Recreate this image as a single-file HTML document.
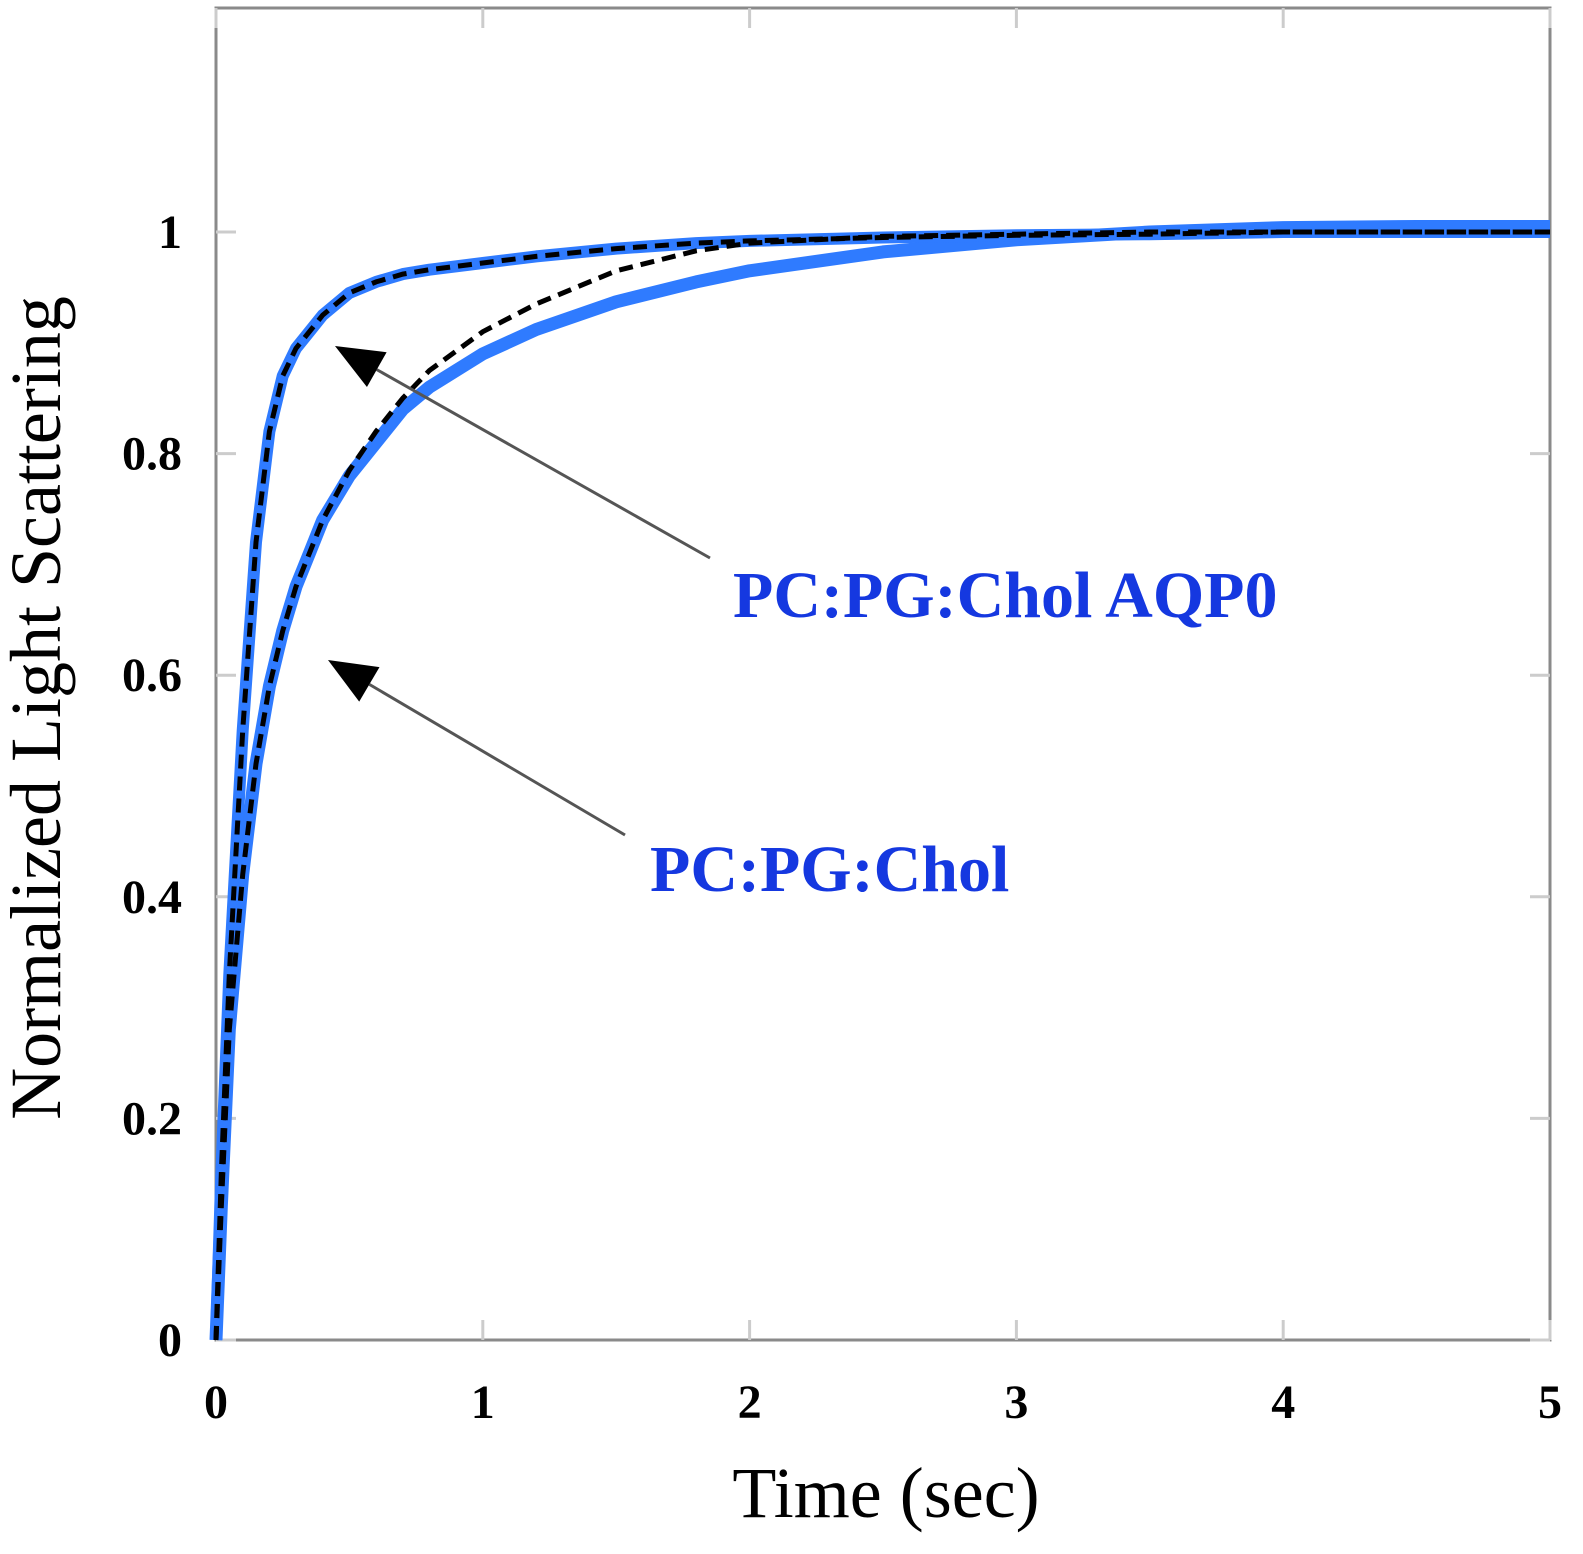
<!DOCTYPE html>
<html><head><meta charset="utf-8"><style>
body{margin:0;background:#fff}
svg{display:block}
text{font-family:"Liberation Serif",serif}
</style></head><body>
<svg id="chart" width="1583" height="1554" viewBox="0 0 1583 1554" xmlns="http://www.w3.org/2000/svg"></svg>
<script>
const times=[0,0.02,0.05,0.1,0.15,0.2,0.25,0.3,0.35,0.4,0.5,0.6,0.7,0.8,1.0,1.2,1.5,1.8,2.0,2.5,3,3.5,4,4.5,5];
const fastData=[0,0.15,0.33,0.55,0.72,0.82,0.87,0.895,0.91,0.925,0.945,0.955,0.962,0.966,0.972,0.978,0.985,0.99,0.992,0.995,0.997,0.998,1.0,1.0,1.0];
const fastFit=[0,0.15,0.33,0.55,0.72,0.82,0.87,0.895,0.91,0.925,0.945,0.955,0.962,0.966,0.972,0.978,0.985,0.99,0.992,0.995,0.997,0.998,1.0,1.0,1.0];
const slowData=[0,0.12,0.28,0.42,0.52,0.59,0.64,0.68,0.71,0.74,0.78,0.81,0.84,0.86,0.89,0.912,0.937,0.955,0.965,0.982,0.993,1.0,1.004,1.005,1.005];
const slowFit=[0,0.12,0.28,0.42,0.52,0.59,0.64,0.68,0.71,0.74,0.785,0.82,0.85,0.875,0.91,0.935,0.965,0.983,0.99,0.996,0.998,1.0,1.0,1.0,1.0];
const xTicks=[0,1,2,3,4,5];
const yTicks=[0,0.2,0.4,0.6,0.8,1];
const yTickLabels=["0","0.2","0.4","0.6","0.8","1"];

const NS="http://www.w3.org/2000/svg";
const svg=document.getElementById('chart');
const L=216,R=1550,T=8,B=1340;
const xs=v=>L+(v-0)/5*(R-L);
const ys=v=>B-v*1108;
function el(tag,attrs,parent){const e=document.createElementNS(NS,tag);for(const k in attrs)e.setAttribute(k,attrs[k]);(parent||svg).appendChild(e);return e;}

const frame=el('rect',{x:L,y:T,width:R-L,height:B-T,fill:'none',stroke:'#8a8a8a','stroke-width':3});



xTicks.forEach(t=>{
  const x=xs(t);
  const a=el('line',{x1:x,y1:B,x2:x,y2:B-20,stroke:'#ccc','stroke-width':3});
  
  
  const b=el('line',{x1:x,y1:T,x2:x,y2:T+20,stroke:'#ccc','stroke-width':3});
  
  
  const lb=el('text',{x:x,y:1418,'text-anchor':'middle','font-size':48,'font-weight':'bold'});
  lb.textContent=String(t);
  
  
});
yTicks.forEach((t,i)=>{
  const y=ys(t);
  const a=el('line',{x1:L,y1:y,x2:L+20,y2:y,stroke:'#ccc','stroke-width':3});
  
  
  const b=el('line',{x1:R,y1:y,x2:R-20,y2:y,stroke:'#ccc','stroke-width':3});
  
  
  const lb=el('text',{x:182,y:y+16,'text-anchor':'end','font-size':48,'font-weight':'bold'});
  lb.textContent=yTickLabels[i];
  
  
});

function pts(vals){return times.map((t,i)=>xs(t).toFixed(1)+','+ys(vals[i]).toFixed(1)).join(' ');}
const s1=el('polyline',{points:pts(slowData),fill:'none',stroke:'#2f7bff','stroke-width':13,'stroke-linejoin':'round'});


const s2=el('polyline',{points:pts(fastData),fill:'none',stroke:'#2f7bff','stroke-width':12,'stroke-linejoin':'round'});


const f1=el('polyline',{points:pts(slowFit),fill:'none',stroke:'#000','stroke-width':5,'stroke-dasharray':'14 8'});


const f2=el('polyline',{points:pts(fastFit),fill:'none',stroke:'#000','stroke-width':5,'stroke-dasharray':'14 8'});



function arrow(x1,y1,x2,y2,name){
  const g=el('g',{});
  
  
  const ang=Math.atan2(y2-y1,x2-x1);
  const hl=48,hw=20;
  const bx=x2-hl*Math.cos(ang),by=y2-hl*Math.sin(ang);
  el('line',{x1:x1,y1:y1,x2:bx,y2:by,stroke:'#555','stroke-width':3},g);
  const px=-Math.sin(ang)*hw,py=Math.cos(ang)*hw;
  el('polygon',{points:`${x2},${y2} ${bx+px},${by+py} ${bx-px},${by-py}`,fill:'#000'},g);
}
arrow(710,558,335,346,'arrow-aqp0');
arrow(625,835,328,660,'arrow-chol');

const t1=el('text',{x:733,y:617,'font-size':66,'font-weight':'bold',fill:'#1538e0'});
t1.textContent='PC:PG:Chol AQP0';


const t2=el('text',{x:650,y:891,'font-size':66,'font-weight':'bold',fill:'#1538e0'});
t2.textContent='PC:PG:Chol';



const xt=el('text',{x:886,y:1517,'text-anchor':'middle','font-size':72});
xt.textContent='Time (sec)';


const yt=el('text',{x:0,y:0,'text-anchor':'middle','font-size':72,transform:'translate(60,708) rotate(-90)'});
yt.textContent='Normalized Light Scattering';


</script>
</body></html>
